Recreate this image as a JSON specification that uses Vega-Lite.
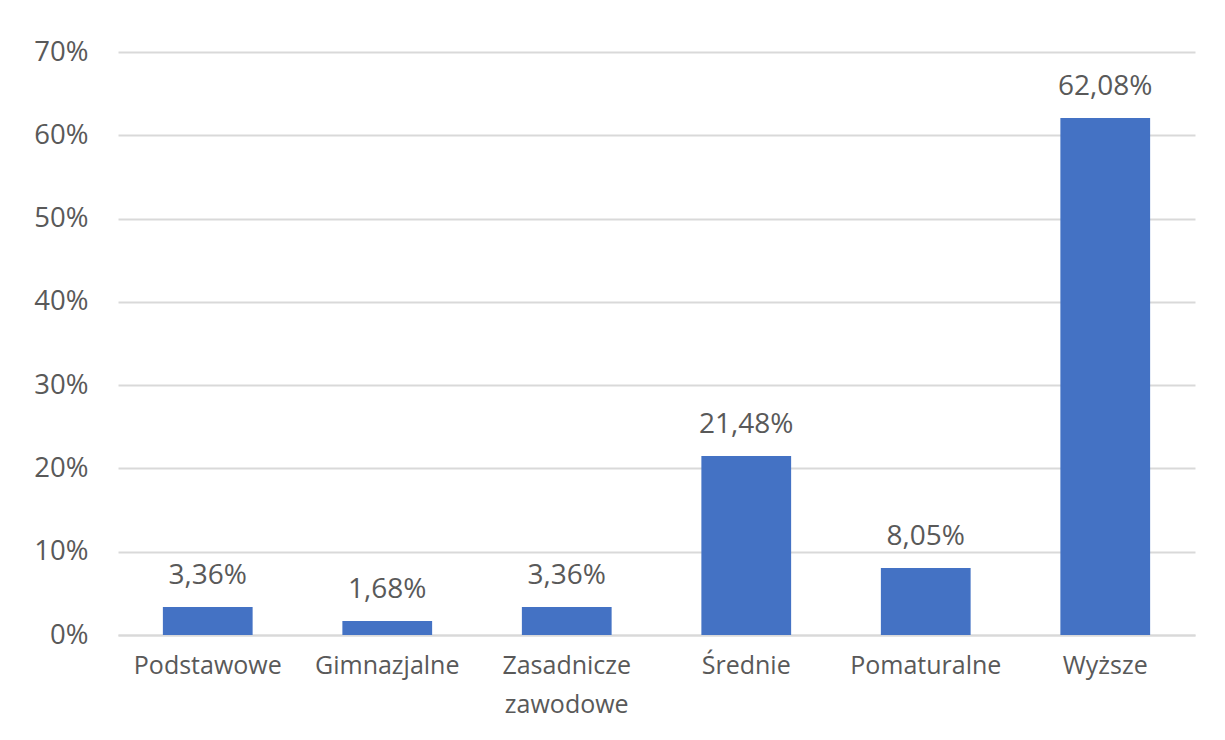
{
  "$schema": "https://vega.github.io/schema/vega-lite/v6.json",
  "autosize": "none",
  "width": 1077,
  "height": 583,
  "padding": {"left": 118, "top": 52, "right": 30, "bottom": 105},
  "background": "white",
  "config": {
    "locale": {"number": {"decimal": ",", "thousands": "\u00a0", "grouping": [3], "currency": ["", " zł"]}},
    "view": {"stroke": null},
    "font": "Open Sans"
  },
  "data": {
    "values": [
      {"category": "Podstawowe", "value": 0.0336},
      {"category": "Gimnazjalne", "value": 0.0168},
      {"category": "Zasadnicze zawodowe", "value": 0.0336},
      {"category": "Średnie", "value": 0.2148},
      {"category": "Pomaturalne", "value": 0.0805},
      {"category": "Wyższe", "value": 0.6208}
    ]
  },
  "encoding": {
    "x": {
      "field": "category",
      "type": "nominal",
      "sort": null,
      "scale": {"paddingInner": 0.5, "paddingOuter": 0.25},
      "axis": {
        "title": null,
        "labelAngle": 0,
        "labelFont": "Open Sans",
        "labelFontSize": 25,
        "labelColor": "#595959",
        "labelPadding": 18,
        "labelLineHeight": 39,
        "labelExpr": "datum.value == 'Zasadnicze zawodowe' ? ['Zasadnicze', 'zawodowe'] : datum.value",
        "ticks": false,
        "domainColor": "#d9d9d9",
        "domainWidth": 2,
        "grid": false
      }
    },
    "y": {
      "field": "value",
      "type": "quantitative",
      "scale": {"domain": [0, 0.7]},
      "axis": {
        "title": null,
        "format": ".0%",
        "values": [0, 0.1, 0.2, 0.3, 0.4, 0.5, 0.6, 0.7],
        "labelFont": "Open Sans",
        "labelFontSize": 27.5,
        "labelColor": "#595959",
        "labelPadding": 30,
        "ticks": false,
        "domain": false,
        "gridColor": "#d9d9d9",
        "gridWidth": 2
      }
    }
  },
  "layer": [
    {"mark": {"type": "bar", "color": "#4472C4"}},
    {
      "mark": {"type": "text", "baseline": "alphabetic", "dy": -23, "fontSize": 28, "font": "Open Sans", "color": "#595959"},
      "encoding": {"text": {"field": "value", "type": "quantitative", "format": ".2%"}}
    }
  ]
}
